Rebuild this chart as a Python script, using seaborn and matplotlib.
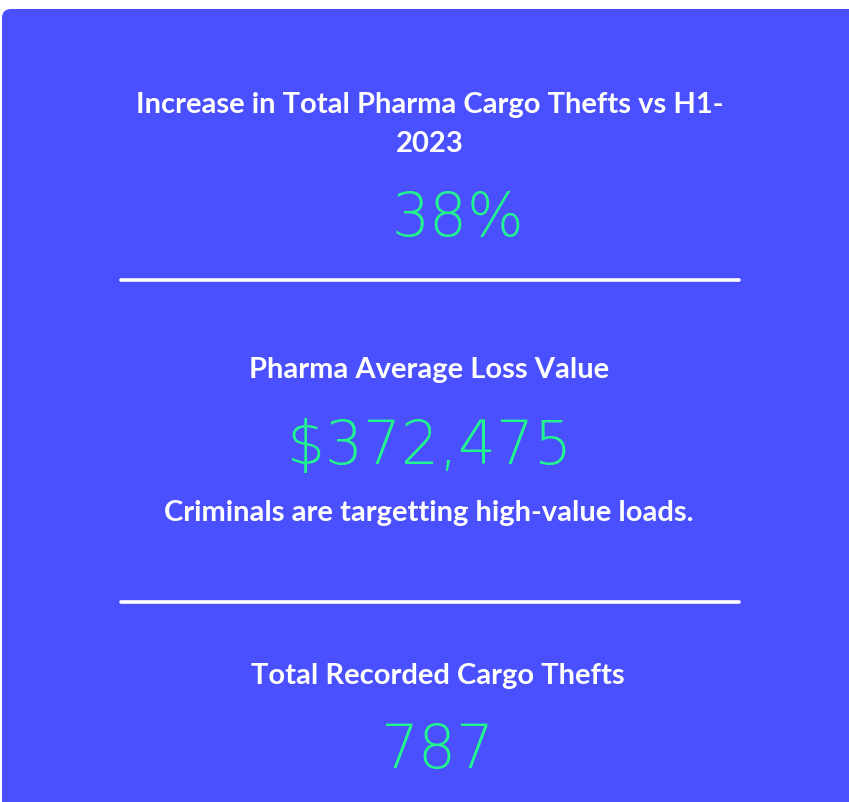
import matplotlib
matplotlib.use("Agg")
import matplotlib.pyplot as plt
import seaborn as sns
import pandas as pd
from matplotlib.patches import FancyBboxPatch

# ---- data ----
headings = ["Increase in Total Pharma Cargo Thefts vs H1-\n2023",
            "Pharma Average Loss Value",
            "Total Recorded Cargo Thefts"]
values = ["38%", "$372,475", "787"]
notes = ["", "Criminals are targetting high-value loads.", ""]

# ---- style ----
sns.set_theme(style="white")
BLUE = "#4a50fe"
GREEN = "#22f78e"
W, H = 849, 802

fig = plt.figure(figsize=(W / 100, H / 100), dpi=100)
ax = fig.add_axes([0, 0, 1, 1])
ax.set_xlim(0, W)
ax.set_ylim(H, 0)
ax.axis("off")
fig.patch.set_facecolor("white")

# card background
card = FancyBboxPatch((2, 9), W + 40, H + 40,
                      boxstyle="round,pad=0,rounding_size=9",
                      facecolor=BLUE, edgecolor="none", zorder=0)
ax.add_patch(card)

head_font = dict(family=["Lato", "DejaVu Sans"], fontweight="bold",
                 fontsize=21, color="white", ha="center", va="baseline")
num_font = dict(family=["DejaVu Sans"], fontweight="light",
                fontsize=43, color=GREEN, ha="center", va="baseline")

# layout (pixel positions)
head_pos = [(430, 113), (429, 378), (438, 684)]
val_pos = [(458, 236), (430, 464), (437, 768)]
note_pos = [None, (429, 521), None]

for i in range(3):
    lines = headings[i].split("\n")
    for j, ln in enumerate(lines):
        ax.text(head_pos[i][0], head_pos[i][1] + j * 39, ln, **head_font)
    ax.text(val_pos[i][0], val_pos[i][1], values[i], **num_font)
    if notes[i]:
        ax.text(note_pos[i][0], note_pos[i][1], notes[i], **head_font)

# dividers
div = pd.DataFrame({"x": [121, 739, 121, 739],
                    "y": [280, 280, 602, 602],
                    "g": ["a", "a", "b", "b"]})
sns.lineplot(data=div, x="x", y="y", units="g", estimator=None,
             color="white", linewidth=2.6, ax=ax, legend=False)
ax.set_xlim(0, W)
ax.set_ylim(H, 0)
ax.axis("off")

fig.savefig("out.png", dpi=100, facecolor="white")
